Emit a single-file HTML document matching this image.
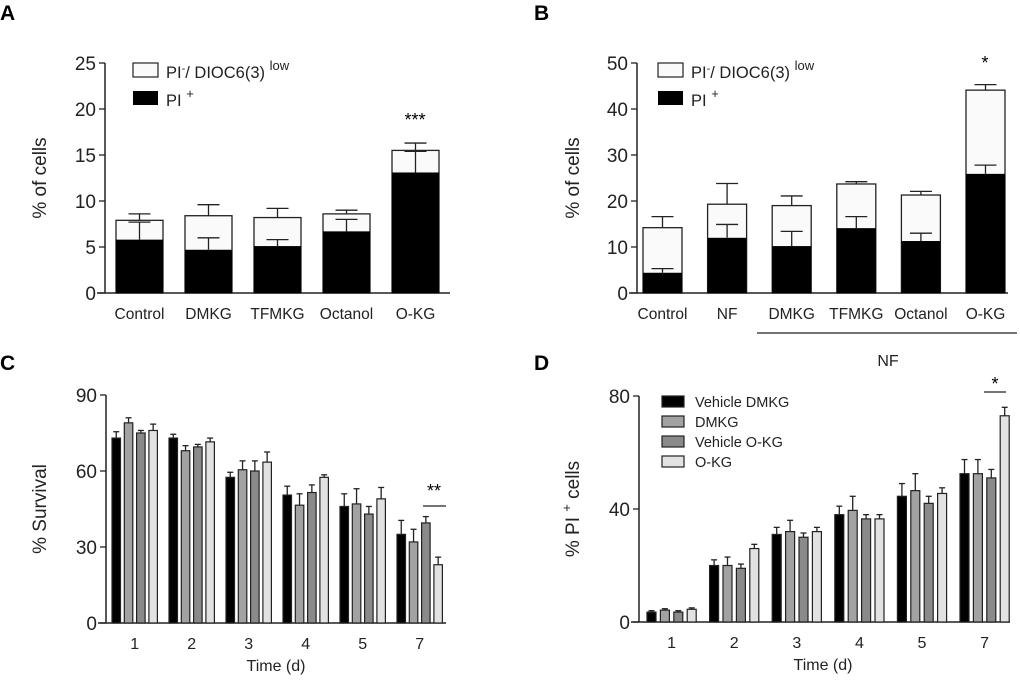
<!DOCTYPE html>
<html><head><meta charset="utf-8"><style>
body{margin:0;background:#fff}
svg{display:block;font-family:"Liberation Sans",Arial,sans-serif}
</style></head><body>
<svg id="fig" width="1020" height="689" viewBox="0 0 1020 689" xmlns="http://www.w3.org/2000/svg">
<text x="0" y="20" font-size="21" font-weight="bold">A</text>
<text x="534" y="20" font-size="21" font-weight="bold">B</text>
<text x="0" y="370" font-size="21" font-weight="bold">C</text>
<text x="534" y="370" font-size="21" font-weight="bold">D</text>
<g id="gA"></g>
<g id="gB"></g>
<g id="gC"></g>
<g id="gD"></g>
</svg>
<script>
// Panel A data
const catsA = ["Control","DMKG","TFMKG","Octanol","O-KG"];
const totalA = [7.9,8.4,8.2,8.6,15.5];
const totalErrA = [8.6,9.6,9.2,9.0,16.3];
const piA = [5.8,4.7,5.1,6.7,13.1];
const piErrA = [7.7,6.0,5.8,8.0,15.4];
const ticksA = [0,5,10,15,20,25];
// Panel B data
const catsB = ["Control","NF","DMKG","TFMKG","Octanol","O-KG"];
const totalB = [14.2,19.3,19.0,23.7,21.3,44.1];
const totalErrB = [16.6,23.8,21.1,24.2,22.1,45.3];
const piB = [4.4,12.0,10.2,14.1,11.3,25.9];
const piErrB = [5.3,14.9,13.4,16.6,13.0,27.8];
const ticksB = [0,10,20,30,40,50];
// Panel C data
const daysC = ["1","2","3","4","5","7"];
const survVehDMKG = [73,73,57.5,50.5,46,35];
const survDMKG = [79,68,60.5,46.5,47,32];
const survVehOKG = [75,69.5,60,51.5,43,39.5];
const survOKG = [76,71.5,63.5,57.5,49,23];
const survErrVehDMKG = [2.5,1.5,2,3.5,5,5.5];
const survErrDMKG = [2,2,3.5,4.5,6,5];
const survErrVehOKG = [1,1,4,3,3,2.5];
const survErrOKG = [2.5,1.5,4,1,4.5,3];
const ticksC = [0,30,60,90];
// Panel D data
const daysD = ["1","2","3","4","5","7"];
const piVehDMKG = [3.5,20,31,38,44.5,52.5];
const piDMKG = [4.2,20,32,39.5,46.5,52.5];
const piVehOKG = [3.5,19,30,36.5,42,51];
const piOKG = [4.5,26,32,36.5,45.5,73];
const piErrVehDMKG = [0.5,2,2.5,3,4.5,5];
const piErrDMKG = [0.5,3,4,5,6,5];
const piErrVehOKG = [0.5,1.5,1.5,1.5,2.5,3];
const piErrOKG = [0.5,1.5,1.5,1.5,2,3];
const ticksD = [0,40,80];
const seriesNames = ["Vehicle DMKG","DMKG","Vehicle O-KG","O-KG"];
const seriesColors = ["#000","#a2a2a2","#8a8a8a","#e2e2e2"];

const NS="http://www.w3.org/2000/svg";
function mk(parent,tag,attrs,text){const e=document.createElementNS(NS,tag);for(const k in attrs)e.setAttribute(k,attrs[k]);if(text!==undefined)e.textContent=text;parent.appendChild(e);return e;}
function line(g,x1,y1,x2,y2,w){return mk(g,"line",{x1,y1,x2,y2,stroke:"#222","stroke-width":w||1.3});}

function axisY(g,ax,y0,yTop,xEnd,ticks,maxV,label,lx){
  const sy=v=>y0-(v/maxV)*(y0-yTop);
  const a=line(g,ax,yTop,ax,y0,1.5);
  
  
  const b=line(g,ax-8,y0,xEnd,y0,1.5);
  
  
  ticks.forEach(t=>{line(g,ax-6,sy(t),ax,sy(t),1.3);
    const tx=mk(g,"text",{x:ax-9,y:sy(t)+7,"font-size":19,"text-anchor":"end",fill:"#222"},String(t));
    
    });
  const yl=mk(g,"text",{x:lx,y:(y0+yTop)/2,"font-size":19,"text-anchor":"middle",transform:`rotate(-90 ${lx} ${(y0+yTop)/2})`,fill:"#222"},label);
  
  
  return sy;
}
function errBar(g,cx,yFrom,yTo,hw){line(g,cx,yFrom,cx,yTo,1.3);line(g,cx-hw,yTo,cx+hw,yTo,1.3);}

function stacked(gid,cats,tot,totE,pi,piE,ticks,maxV,ax,x0,pitch,bw,xEnd,ylx){
  const g=document.getElementById(gid);
  const sy=axisY(g,ax,293,63,xEnd,ticks,maxV,"% of cells",ylx);
  cats.forEach((c,i)=>{
    const x=x0+i*pitch,cx=x+bw/2;
    errBar(g,cx,sy(tot[i]),sy(totE[i]),11);
    const r1=mk(g,"rect",{x,y:sy(tot[i]),width:bw,height:sy(0)-sy(tot[i]),fill:"#fafafa",stroke:"#222","stroke-width":1.3});
    
    
    const r2=mk(g,"rect",{x,y:sy(pi[i]),width:bw,height:sy(0)-sy(pi[i]),fill:"#000"});
    
    
    errBar(g,cx,sy(pi[i]),sy(piE[i]),11);
    const t=mk(g,"text",{x:cx,y:319,"font-size":15.5,"text-anchor":"middle",fill:"#222"},c);
    
    
  });
  return g;
}
function legendStack(g,x){
  const r1=mk(g,"rect",{x,y:63,width:25,height:14,fill:"#fafafa",stroke:"#222","stroke-width":1.2});
  
  
  const t1=mk(g,"text",{x:x+33,y:78,"font-size":16.5,fill:"#222"});
  
  
  t1.innerHTML='PI<tspan dy="-6" font-size="11">-</tspan><tspan dy="6">/ DIOC6(3) </tspan><tspan dy="-8" font-size="13">low</tspan>';
  const r2=mk(g,"rect",{x,y:91,width:25,height:14,fill:"#000"});
  
  
  const t2=mk(g,"text",{x:x+33,y:106,"font-size":16.5,fill:"#222"});
  
  
  t2.innerHTML='PI <tspan dy="-8" font-size="13">+</tspan>';
}
const gA=stacked("gA",catsA,totalA,totalErrA,piA,piErrA,ticksA,25,105,116,69,47,450,46);
legendStack(gA,133);
const sA=mk(gA,"text",{x:415,y:126,"font-size":18,"text-anchor":"middle"},"***");



const gB=stacked("gB",catsB,totalB,totalErrB,piB,piErrB,ticksB,50,637,643,64.6,39,1008,579);
legendStack(gB,658);
const sB=mk(gB,"text",{x:985,y:69,"font-size":18,"text-anchor":"middle"},"*");


const nfl=line(gB,757,333,1017,333,1.3);


const nft=mk(gB,"text",{x:888,y:366,"font-size":16,"text-anchor":"middle",fill:"#222"},"NF");



function grouped(gid,days,vals,errs,ticks,maxV,ax,y0,yTop,xEnd,g0,gp,bw,bp,label,ylx,lblX){
  const g=document.getElementById(gid);
  const sy=axisY(g,ax,y0,yTop,xEnd,ticks,maxV,label,ylx);
  days.forEach((d,i)=>{
    vals.forEach((ser,s)=>{
      const x=g0+i*gp+s*bp,cx=x+bw/2;
      errBar(g,cx,sy(ser[i]),sy(ser[i]+errs[s][i]),3);
      const r=mk(g,"rect",{x,y:sy(ser[i]),width:bw,height:sy(0)-sy(ser[i]),fill:seriesColors[s],stroke:"#222","stroke-width":1.2});
      
      
    });
    const t=mk(g,"text",{x:g0+i*gp+(3*bp+bw)/2,y:y0+26,"font-size":16,"text-anchor":"middle",fill:"#222"},d);
    
    
  });
  const xt=mk(g,"text",{x:lblX,y:y0+48,"font-size":16,"text-anchor":"middle",fill:"#222"},"Time (d)");
  
  
  return g;
}
const gC=grouped("gC",daysC,[survVehDMKG,survDMKG,survVehOKG,survOKG],[survErrVehDMKG,survErrDMKG,survErrVehOKG,survErrOKG],ticksC,90,106,623,395,446,112,57,8.5,12.3,"% Survival",46,276);
const sC=mk(gC,"text",{x:434,y:497,"font-size":18,"text-anchor":"middle"},"**");


line(gC,423,506,446,506,1.3);

const gD=grouped("gD",daysD,[piVehDMKG,piDMKG,piVehOKG,piOKG],[piErrVehDMKG,piErrDMKG,piErrVehOKG,piErrOKG],ticksD,80,639,622,396,1010,647,62.6,9,13.4,"",579,823);
const dyl=mk(gD,"text",{x:579,y:509,"font-size":19,"text-anchor":"middle",transform:"rotate(-90 579 509)",fill:"#222"});


dyl.innerHTML='% PI <tspan dy="-8" font-size="13">+</tspan><tspan dy="8"> cells</tspan>';
const sD=mk(gD,"text",{x:995,y:390,"font-size":18,"text-anchor":"middle"},"*");


line(gD,984,392,1006,392,1.3);
seriesNames.forEach((n,s)=>{
  const r=mk(gD,"rect",{x:662,y:396+s*20,width:22,height:11,fill:seriesColors[s],stroke:"#222","stroke-width":1.2});
  
  
  const t=mk(gD,"text",{x:695,y:407+s*20,"font-size":14.5,fill:"#222"},n);
  
  
});
</script>
</body></html>
